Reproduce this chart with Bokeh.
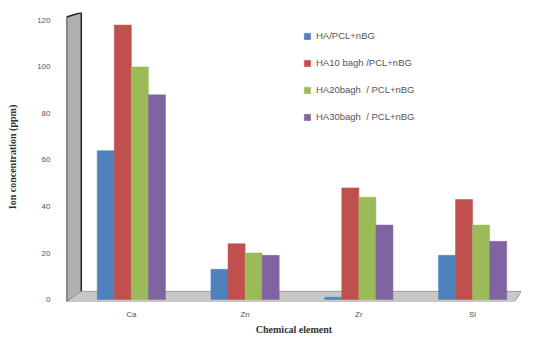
from bokeh.plotting import figure
from bokeh.models import Range1d, FixedTicker, Legend, LegendItem
from bokeh.embed import file_html
from bokeh.resources import INLINE

categories = ["Ca", "Zn", "Zr", "Si"]
series_names = ["HA/PCL+nBG", "HA10 bagh /PCL+nBG", "HA20bagh  / PCL+nBG", "HA30bagh  / PCL+nBG"]
ha_pcl = [64, 13, 1, 19]
ha10 = [118, 24, 48, 43]
ha20 = [100, 20, 44, 32]
ha30 = [88, 19, 32, 25]
colors = ["#4f81bd", "#c0504d", "#9bbb59", "#8064a2"]
y_ticks = [0, 20, 40, 60, 80, 100, 120]

p = figure(width=521, height=337, output_backend="svg", toolbar_location=None,
           x_range=Range1d(-0.07, 3.93), y_range=Range1d(-0.85, 123.4),
           min_border_left=66, min_border_right=0, min_border_top=12, min_border_bottom=32)
p.xgrid.visible = False
p.ygrid.visible = False
p.outline_line_color = None

# 3D-like wall and floor (decoration)
p.patch([-0.07, 0.06, 0.06, -0.07], [-0.85, 2.5, 123.4, 121.5], fill_color="#b0b0b0",
        line_color="#222222", line_width=1.5)
p.patch([-0.07, 3.87, 3.93, 0.06], [-0.85, -0.85, 3.5, 3.5], fill_color="#c8c8c8",
        line_color="#999999", line_width=1)

xs = [i + 0.5 for i in range(len(categories))]
offsets = [-0.225, -0.075, 0.075, 0.225]
items = []
for vals, col, off, name in zip([ha_pcl, ha10, ha20, ha30], colors, offsets, series_names):
    r = p.vbar(x=[x + off for x in xs], top=vals, bottom=0, width=0.15,
               fill_color=col, line_color=col, line_width=0.5)
    items.append(LegendItem(label=name, renderers=[r]))

legend = Legend(items=items, location=(237, 174), border_line_color=None,
                background_fill_alpha=0, label_text_font="Liberation Sans",
                label_text_font_size="9.5px", label_text_color="#555555",
                glyph_width=8, glyph_height=8, label_height=21, spacing=6, padding=0,
                label_standoff=5)
p.add_layout(legend)

p.xaxis.ticker = FixedTicker(ticks=xs)
p.xaxis.major_label_overrides = {x: c for x, c in zip(xs, categories)}
p.yaxis.ticker = FixedTicker(ticks=y_ticks)
for ax in (p.xaxis[0], p.yaxis[0]):
    ax.axis_line_color = None
    ax.major_tick_line_color = None
    ax.minor_tick_line_color = None
    ax.major_tick_out = 0
    ax.minor_tick_out = 0
    ax.major_label_text_font = "Liberation Sans"
    ax.major_label_text_font_size = "8px"
    ax.major_label_text_color = "#555555"
    ax.axis_label_text_font = "Liberation Serif"
    ax.axis_label_text_font_style = "bold"
    ax.axis_label_text_font_size = "10px"
    ax.axis_label_text_color = "#333333"
p.xaxis.major_label_standoff = 8
p.yaxis.major_label_standoff = 16
p.xaxis.axis_label = "Chemical element"
p.xaxis.axis_label_standoff = 2
p.yaxis.axis_label = "Ion concentration (ppm)"
p.yaxis.axis_label_standoff = 16

open("out.html", "w").write(file_html(p, INLINE))
